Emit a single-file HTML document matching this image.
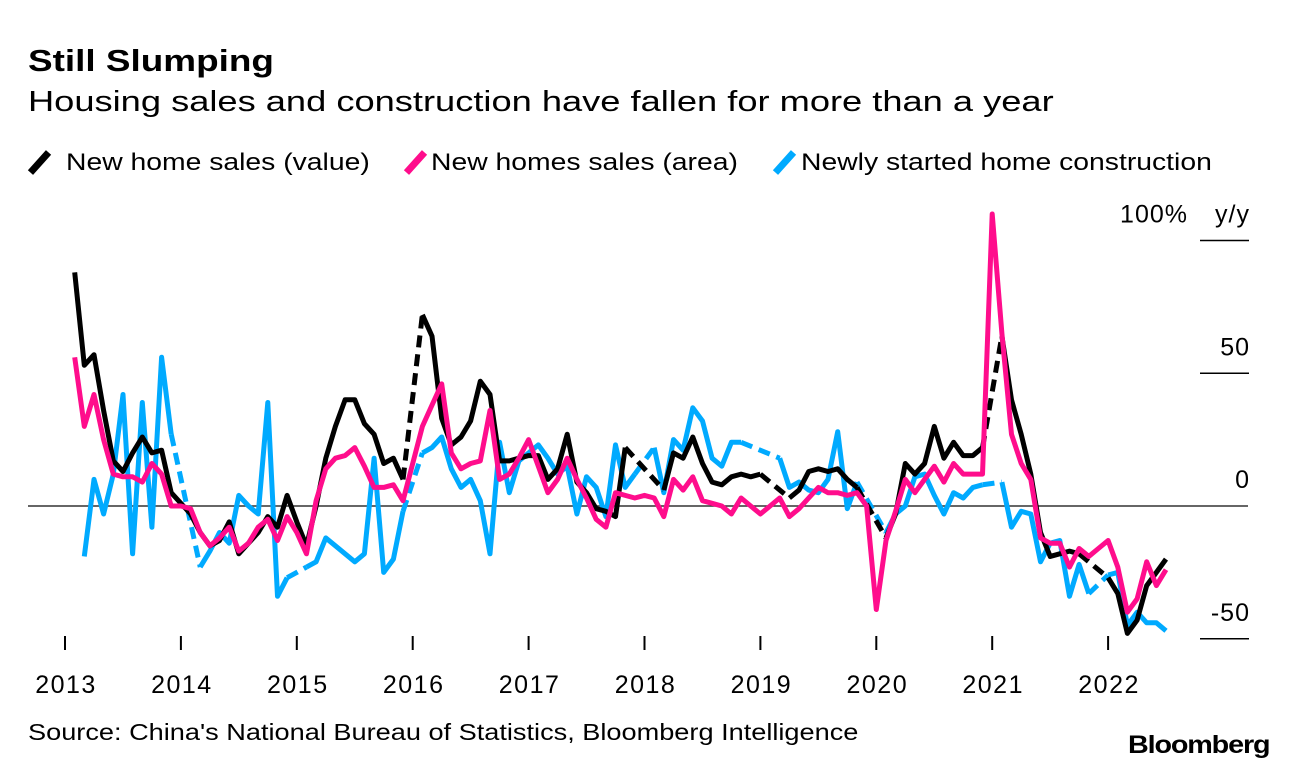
<!DOCTYPE html>
<html><head><meta charset="utf-8"><style>
body{margin:0;background:#fff;font-family:"Liberation Sans",Arial,sans-serif;}
#wrap{position:relative;width:1296px;height:772px;overflow:hidden;background:#fff}
.t{position:absolute;white-space:nowrap;color:#000;transform-origin:left top}
.ic{position:absolute;width:7px;height:27px;transform:rotate(42deg)}
</style></head><body>
<div id="wrap">
<div class="t" style="left:28px;top:43px;font-size:31px;font-weight:bold;transform:scaleX(1.19)">Still Slumping</div>
<div class="t" style="left:28px;top:86px;font-size:29px;transform:scaleX(1.25)">Housing sales and construction have fallen for more than a year</div>
<div class="ic" style="left:36px;top:149px;background:#000"></div>
<div class="t" style="left:66px;top:149px;font-size:24px;transform:scaleX(1.18)">New home sales (value)</div>
<div class="ic" style="left:412px;top:149px;background:#ff0d8c"></div>
<div class="t" style="left:431px;top:149px;font-size:24px;transform:scaleX(1.18)">New homes sales (area)</div>
<div class="ic" style="left:781px;top:149px;background:#00aaff"></div>
<div class="t" style="left:801px;top:149px;font-size:24px;transform:scaleX(1.18)">Newly started home construction</div>
<div class="t" style="left:28px;top:719px;font-size:23px;transform:scaleX(1.18)">Source: China's National Bureau of Statistics, Bloomberg Intelligence</div>
<div class="t" style="left:1128px;top:731px;font-size:25px;font-weight:bold;letter-spacing:-1px;transform:scaleX(1.15)">Bloomberg</div>
<svg id="plot" width="1296" height="772" style="position:absolute;left:0;top:0"></svg>
</div>
<script>
const yTicks=[100,50,0,-50];
const yTickLabels=["100%","50","0","-50"];
const years=[2013,2014,2015,2016,2017,2018,2019,2020,2021,2022];
const valueSales=[null,88,53,57,36,17,13,20,26,20,21,5,1,-3,-10,-15,-13,-6,-18,-14,-10,-4,-8,4,-6,-15,0,18,30,40,40,31,27,16,18,10,null,72,64,33,23,26,32,47,42,17,17,18,19,19,10,14,27,9,5,-1,-2,-4,22,null,null,null,6,20,18,26,16,9,8,11,12,11,12,null,null,3,6,13,14,13,14,10,7,null,null,-12,-3,16,12,16,30,18,24,19,19,22,null,64,40,27,12,-10,-19,-18,-17,-18,null,null,-27,-33,-48,-43,-30,-25,-20];
const areaSales=[null,56,30,42,25,12,11,11,9,16,12,0,0,-1,-10,-15,-12,-8,-17,-14,-8,-5,-13,-4,-10,-18,2,14,18,19,22,15,7,7,8,2,16,30,38,46,20,14,16,17,36,10,12,18,25,15,5,10,18,10,3,-5,-8,5,4,3,4,3,-4,10,6,11,2,1,0,-3,3,0,-3,0,3,-4,-1,3,7,5,5,4,5,0,-39,-13,-2,10,5,10,15,9,16,12,12,12,110,65,27,16,10,-12,-14,-14,-23,-16,-19,-16,-13,-23,-40,-35,-21,-30,-24];
const construction=[null,null,-19,10,-3,12,42,-18,39,-8,56,27,null,null,-23,-17,-10,-14,4,0,-3,39,-34,-27,null,-23,-21,-12,-15,-18,-21,-18,18,-25,-20,-2,null,20,22,26,14,7,10,2,-18,24,5,17,20,23,18,12,15,-3,11,7,-4,23,7,12,null,22,5,25,21,37,32,18,15,24,24,null,null,null,18,7,9,6,5,10,28,-1,9,null,null,-10,-3,0,11,12,4,-3,5,3,7,8,null,9,-8,-2,-3,-21,-14,-13,-34,-22,-33,null,-26,-25,-45,-40,-44,-44,-47];

const svg=document.getElementById('plot');
const NS='http://www.w3.org/2000/svg';
const X0=65,PX_PER_MONTH=115.9/12,Y0=506,PX_PER_UNIT=2.655;
function xs(m){return X0+m*PX_PER_MONTH;}
function ys(v){return Y0-v*PX_PER_UNIT;}
function mk(tag,attrs){const e=document.createElementNS(NS,tag);for(const k in attrs)e.setAttribute(k,attrs[k]);svg.appendChild(e);return e;}

const zl=mk('line',{x1:28,x2:1248,y1:ys(0),y2:ys(0),stroke:'#333','stroke-width':1.5});


yTicks.forEach((v,i)=>{
  if(v!==0){const l=mk('line',{x1:1200,x2:1249,y1:ys(v),y2:ys(v),stroke:'#000','stroke-width':1.5});
  
  }
  const t=mk('text',{x:v===100?1188:1250,y:ys(v)-18,'text-anchor':'end','font-size':25,'font-family':'Liberation Sans, sans-serif','letter-spacing':'1'});
  t.textContent=yTickLabels[i];
  
  
});
const yy=mk('text',{x:1250,y:ys(100)-18,'text-anchor':'end','font-size':25,'font-family':'Liberation Sans, sans-serif','letter-spacing':'1'});
yy.textContent='y/y';


years.forEach((yr,i)=>{
  const x=xs(i*12);
  const l=mk('line',{x1:x,x2:x,y1:636,y2:650,stroke:'#000','stroke-width':2});
  
  
  const t=mk('text',{x:x+1,y:693,'text-anchor':'middle','font-size':25,'font-family':'Liberation Sans, sans-serif','letter-spacing':'1.5'});
  t.textContent=yr;
  
  
});
function drawSeries(vals,color,name){
  let prev=null;let seg=[];
  const flush=()=>{if(seg.length>1){const p=mk('polyline',{points:seg.join(' '),fill:'none',stroke:color,'stroke-width':5,'stroke-linejoin':'round'});
    
    }seg=[];};
  vals.forEach((v,m)=>{
    if(v===null)return;
    if(prev!==null&&m-prev>1){
      flush();
      const d=mk('line',{x1:xs(prev),y1:ys(vals[prev]),x2:xs(m),y2:ys(v),stroke:color,'stroke-width':5,'stroke-dasharray':'12 7'});
      
      
    }
    seg.push(xs(m).toFixed(1)+','+ys(v).toFixed(1));
    prev=m;
  });
  flush();
}
drawSeries(construction,'#00aaff','construction');
drawSeries(valueSales,'#000000','value-sales');
drawSeries(areaSales,'#ff0d8c','area-sales');
</script>
</body></html>
